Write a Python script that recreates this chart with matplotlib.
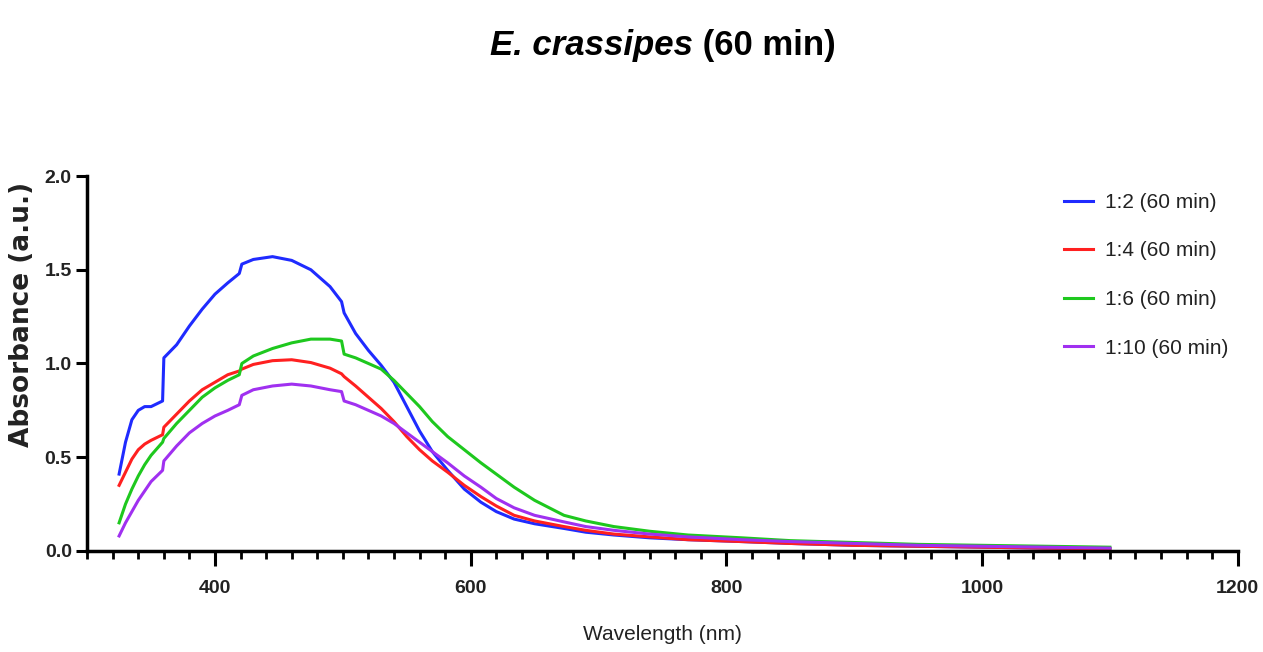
#!/usr/bin/env python3
# -*- coding: utf-8 -*-
"""
E. crassipes (60 min): absorbance spectra for different ratios
"""

import numpy as np
import matplotlib
matplotlib.use("Agg")
import matplotlib.pyplot as plt
from matplotlib.ticker import MultipleLocator

NARROW = ['Liberation Sans Narrow', 'DejaVu Sans Condensed', 'Liberation Sans', 'DejaVu Sans']

# wavelength grid (nm)
wavelength = [325, 330, 335, 340, 345, 350, 359, 360, 370, 380, 390, 400, 410, 419, 421,
              430, 445, 460, 475, 490, 499, 501, 510, 520, 530, 540, 550, 560, 570, 582,
              595, 608, 620, 634, 650, 673, 690, 712, 740, 770, 812, 850, 900, 950, 1000,
              1050, 1100]

abs_1_2 = [0.41, 0.58, 0.70, 0.75, 0.77, 0.77, 0.80, 1.03, 1.10, 1.20, 1.29, 1.37, 1.43, 1.48, 1.53,
           1.555, 1.57, 1.55, 1.50, 1.41, 1.33, 1.27, 1.16, 1.07, 0.99, 0.90, 0.77, 0.64, 0.53, 0.43,
           0.33, 0.26, 0.21, 0.17, 0.145, 0.12, 0.10, 0.085, 0.07, 0.06, 0.05, 0.04, 0.03, 0.025, 0.02,
           0.015, 0.012]

abs_1_4 = [0.35, 0.42, 0.49, 0.54, 0.57, 0.59, 0.62, 0.66, 0.73, 0.80, 0.86, 0.90, 0.94, 0.96, 0.97,
           0.995, 1.015, 1.02, 1.005, 0.975, 0.945, 0.93, 0.88, 0.82, 0.76, 0.69, 0.61, 0.54, 0.48, 0.42,
           0.35, 0.29, 0.24, 0.19, 0.16, 0.13, 0.11, 0.09, 0.075, 0.06, 0.05, 0.04, 0.03, 0.025, 0.02,
           0.015, 0.012]

abs_1_6 = [0.15, 0.25, 0.33, 0.40, 0.46, 0.51, 0.58, 0.60, 0.68, 0.75, 0.82, 0.87, 0.91, 0.94, 1.00,
           1.04, 1.08, 1.11, 1.13, 1.13, 1.12, 1.05, 1.03, 1.00, 0.97, 0.91, 0.84, 0.77, 0.69, 0.61,
           0.54, 0.47, 0.41, 0.34, 0.27, 0.19, 0.16, 0.13, 0.105, 0.085, 0.07, 0.055, 0.045, 0.035, 0.03,
           0.025, 0.02]

abs_1_10 = [0.08, 0.15, 0.21, 0.27, 0.32, 0.37, 0.43, 0.48, 0.56, 0.63, 0.68, 0.72, 0.75, 0.78, 0.83,
            0.86, 0.88, 0.89, 0.88, 0.86, 0.85, 0.80, 0.78, 0.75, 0.72, 0.68, 0.63, 0.58, 0.53, 0.47,
            0.40, 0.34, 0.28, 0.23, 0.19, 0.155, 0.13, 0.11, 0.09, 0.075, 0.06, 0.05, 0.04, 0.03, 0.025,
            0.02, 0.015]

labels = ['1:2 (60 min)', '1:4 (60 min)', '1:6 (60 min)', '1:10 (60 min)']
colors = ['#1f2bff', '#ff2020', '#1ec81e', '#a030f0']

fig = plt.figure(figsize=(12.63, 6.52), dpi=100)
ax = fig.add_axes([0.069, 0.155, 0.911, 0.575])

for y, lab, c in zip([abs_1_2, abs_1_4, abs_1_6, abs_1_10], labels, colors):
    ax.plot(wavelength, y, color=c, linewidth=2.2, label=lab, solid_joinstyle='round')

ax.set_xlim(300, 1200)
ax.set_ylim(0, 2.0)
ax.xaxis.set_major_locator(MultipleLocator(200))
ax.xaxis.set_minor_locator(MultipleLocator(20))
ax.yaxis.set_major_locator(MultipleLocator(0.5))
ax.yaxis.set_major_formatter(plt.FuncFormatter(lambda v, p: f"{v:.1f}"))

for s in ['top', 'right']:
    ax.spines[s].set_visible(False)
for s in ['left', 'bottom']:
    ax.spines[s].set_linewidth(2.5)

ax.tick_params(axis='x', which='major', direction='out', length=11, width=2.2, pad=10)
ax.tick_params(axis='y', which='major', direction='out', length=8, width=2.2, pad=3)
ax.tick_params(axis='x', which='minor', direction='out', length=6, width=2.0)
ax.tick_params(axis='y', which='minor', left=False)

for t in ax.get_xticklabels() + ax.get_yticklabels():
    t.set_family(NARROW)
    t.set_fontsize(14)
    t.set_fontweight('bold')
    t.set_color('#222222')

ax.set_xlabel('Wavelength (nm)', fontsize=15, family=NARROW, color='#222222')
ax.xaxis.label.set_va('center')
ax.xaxis.set_label_coords(0.5, -0.224)
ax.set_ylabel('Absorbance (a.u.)', fontsize=19, fontweight='bold', family='DejaVu Sans',
              color='#222222')
ax.yaxis.set_label_coords(-0.045, 0.63)

leg = ax.legend(loc='upper left', bbox_to_anchor=(0.849, 0.955), frameon=False,
                prop={'family': NARROW, 'size': 15}, handlelength=1.4,
                labelspacing=1.42, handletextpad=0.55, borderaxespad=0, borderpad=0)
for txt in leg.get_texts():
    txt.set_color('#222222')

# title: italic species name + regular suffix
fig.canvas.draw()
r = fig.canvas.get_renderer()
t1 = fig.text(0, 0.915, 'E. crassipes', fontsize=25, fontstyle='italic', fontweight='bold',
              family=NARROW, ha='left', va='baseline')
t2 = fig.text(0, 0.915, ' (60 min)', fontsize=25, fontweight='bold',
              family=NARROW, ha='left', va='baseline')
w1 = t1.get_window_extent(r).width / fig.bbox.width
w2 = t2.get_window_extent(r).width / fig.bbox.width
x0 = 0.525 - (w1 + w2) / 2
t1.set_x(x0)
t2.set_x(x0 + w1)

plt.savefig('out.png', dpi=100)
